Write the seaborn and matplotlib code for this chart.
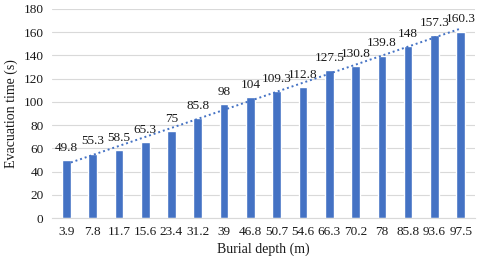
import numpy as np
import pandas as pd
import matplotlib
matplotlib.use("Agg")
import matplotlib.pyplot as plt
import seaborn as sns

depths = ["3.9", "7.8", "11.7", "15.6", "23.4", "31.2", "39", "46.8",
          "50.7", "54.6", "66.3", "70.2", "78", "85.8", "93.6", "97.5"]
times = [49.8, 55.3, 58.5, 65.3, 75, 85.8, 98, 104,
         109.3, 112.8, 127.5, 130.8, 139.8, 148, 157.3, 160.3]
labels = ["49.8", "55.3", "58.5", "65.3", "75", "85.8", "98", "104",
          "109.3", "112.8", "127.5", "130.8", "139.8", "148", "157.3", "160.3"]

sns.set_theme(style="white")
plt.rcParams['font.family'] = ['Liberation Serif', 'DejaVu Serif']

df = pd.DataFrame({"depth": depths, "time": times})

fig = plt.figure(figsize=(4.8, 2.56), dpi=100)
ax = fig.add_axes([0.108, 0.148, 0.882, 0.817])

sns.barplot(data=df, x="depth", y="time", color="#4472C4", width=0.33,
            saturation=1, ax=ax, zorder=2)

# linear trendline
idx = np.arange(len(times))
coef = np.polyfit(idx, times, 1)
ax.plot(idx, np.polyval(coef, idx), linestyle=(0, (1, 1.5)), color="#4472C4",
        linewidth=1.4, zorder=3)

for i, (v, t) in enumerate(zip(times, labels)):
    ax.text(i, v + 5.5, t, ha="center", va="bottom", fontsize=9.5, color="#1a1a1a", zorder=4)

ax.set_ylim(0, 180)
ax.set_yticks(np.arange(0, 181, 20))
ax.set_xlim(-0.55, len(depths) - 0.45)
ax.yaxis.grid(True, color="#d9d9d9", linewidth=0.8, zorder=0)
ax.set_axisbelow(True)
for s in ["top", "right", "left"]:
    ax.spines[s].set_visible(False)
ax.spines["bottom"].set_color("#d9d9d9")
ax.spines["bottom"].set_linewidth(0.8)
ax.tick_params(axis="both", length=0, labelsize=9.5, colors="#1a1a1a")
ax.tick_params(axis="x", pad=6)
ax.tick_params(axis="y", pad=6)
ax.set_xlabel("Burial depth (m)", fontsize=10, color="#1a1a1a", labelpad=3)
ax.set_ylabel("Evacuation time (s)", fontsize=10, color="#1a1a1a", labelpad=4)

fig.savefig("out.png", dpi=100)
